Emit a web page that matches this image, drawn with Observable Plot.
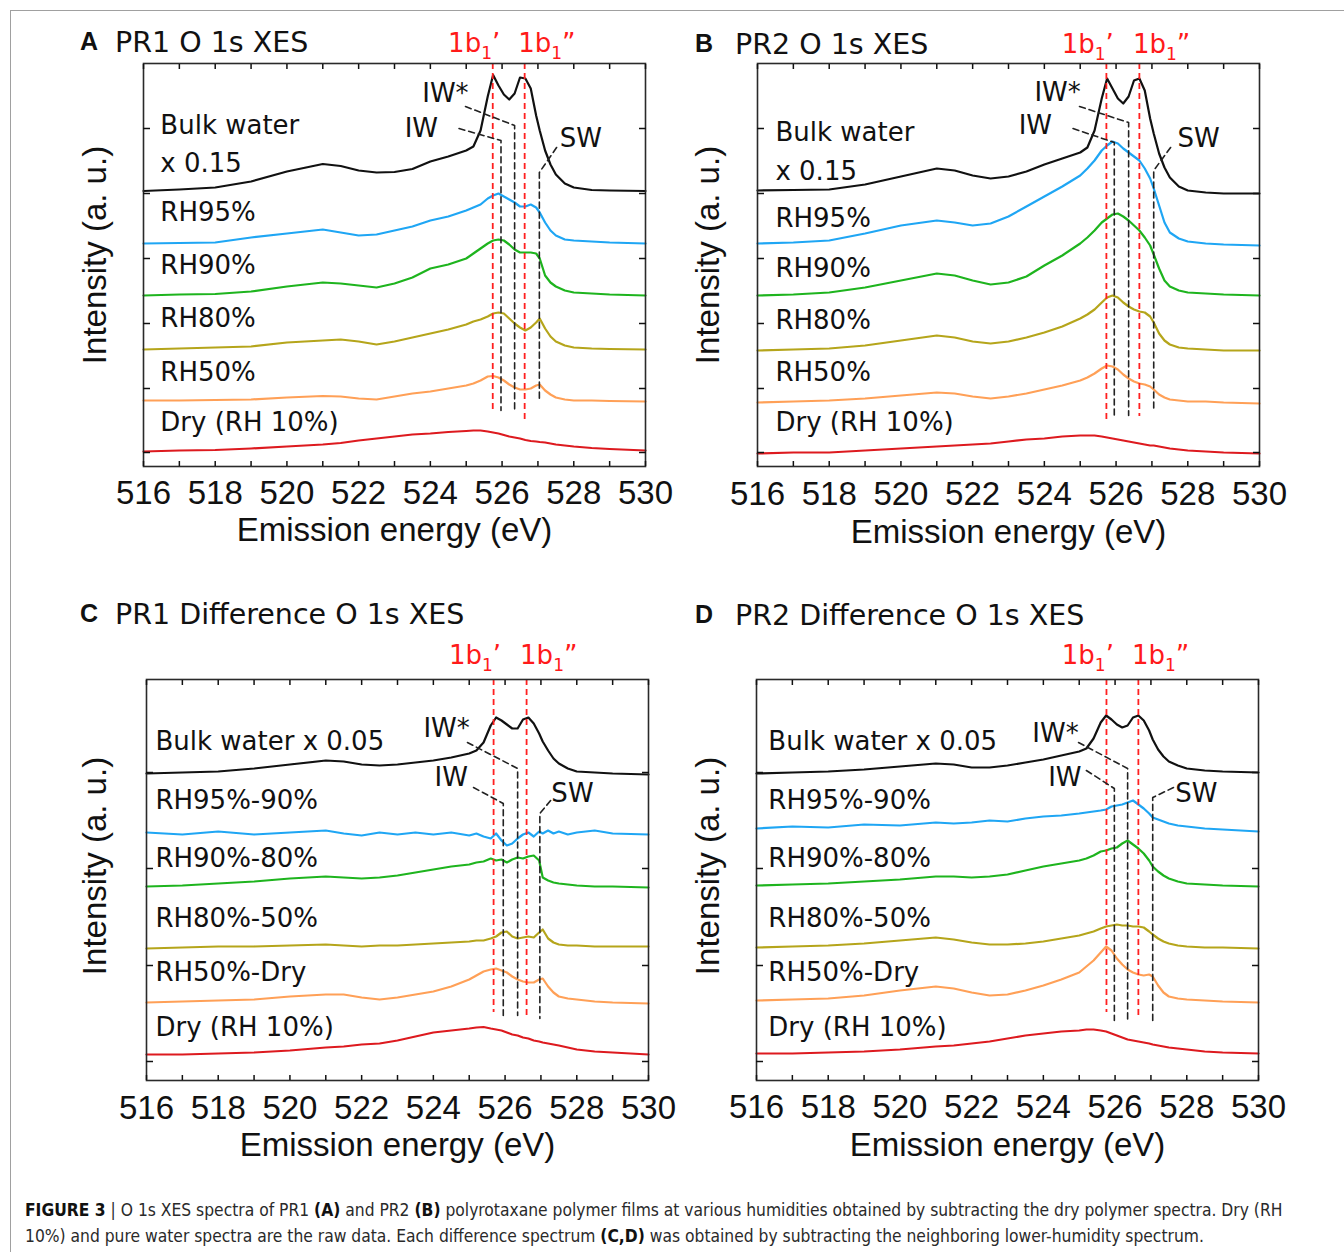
<!DOCTYPE html>
<html>
<head>
<meta charset="utf-8">
<script src="https://cdn.jsdelivr.net/npm/d3@7"></script>
<script src="https://cdn.jsdelivr.net/npm/@observablehq/plot@0.6"></script>
<style>
html, body { margin: 0; padding: 0; background: #fff; }
#fig { position: relative; width: 1344px; height: 1252px; overflow: hidden; background: #fff; }
#border { position: absolute; left: 10px; top: 10px; width: 1400px; height: 1300px; border-left: 1px solid #a0a0a0; border-top: 1px solid #a0a0a0; }
.panel { position: absolute; }
#caption { position: absolute; left: 25px; top: 1197px; white-space: nowrap; font-family: "Liberation Sans Narrow", "DejaVu Sans Condensed", "Liberation Sans", sans-serif; font-size: 17.3px; line-height: 26px; color: #2a2a2a; }
#caption b { color: #111; }
</style>
</head>
<body>
<div id="fig">
  <div id="border"></div>
  <div id="caption"><b>FIGURE 3</b> | O 1s XES spectra of PR1 <b>(A)</b> and PR2 <b>(B)</b> polyrotaxane polymer films at various humidities obtained by subtracting the dry polymer spectra. Dry (RH<br>10%) and pure water spectra are the raw data. Each difference spectrum <b>(C,D)</b> was obtained by subtracting the neighboring lower-humidity spectrum.</div>
</div>
<script>
// ---------------- data ----------------
const energy = [516, 517, 518, 519, 520, 521, 521.5, 522, 522.5, 523, 523.5, 524, 524.5, 525, 525.2, 525.4, 525.6, 525.75, 525.9, 526.05, 526.2, 526.35, 526.5, 526.65, 526.8, 526.95, 527.05, 527.2, 527.35, 527.5, 527.75, 528, 528.5, 529, 530];

const xLabelTicks = [516, 518, 520, 522, 524, 526, 528, 530];
const xMinorTicks = [516, 517, 518, 519, 520, 521, 522, 523, 524, 525, 526, 527, 528, 529, 530];
const yTicksAB = [14, 78, 143, 208, 273, 338];
const yTicksCD = [19, 115, 212, 308];

// Panel A: PR1 O 1s XES (offset intensities, a.u.)
const a_bulk = [275.5, 277, 279, 285, 295, 302.5, 300.5, 296, 294, 294.5, 297.5, 305, 310, 316, 320, 336, 370, 391.4, 381, 372, 367, 373, 389, 388, 378, 351, 336, 316, 302, 292, 283, 279, 276.5, 276, 275.5];
const a_rh95 = [223, 223.5, 224, 229, 233, 237, 234, 231, 232, 236, 240, 246, 250, 256, 259, 262, 268, 271, 273, 270, 267, 264, 260, 260, 262, 259, 254, 244, 236, 231, 227, 226, 225, 224, 223];
const a_rh90 = [171, 172, 172.5, 175, 180, 184, 183, 181, 179, 183, 189, 198, 202, 208, 213, 218, 223, 226, 227, 226, 222, 217, 214, 214, 214, 213, 208, 191, 184, 180, 176, 174, 173, 172, 171];
const a_rh80 = [117, 118, 119, 120, 124, 126, 127, 125, 122, 125, 129, 133, 137, 142, 145, 147, 150, 153, 154, 153, 148, 143, 139, 136, 139, 144, 148, 138, 130, 125, 121, 119, 118, 117.5, 117];
const a_rh50 = [66, 66, 66.5, 67, 69, 70.5, 70, 68, 67, 70, 73, 75, 78, 81, 83, 86, 90, 90.5, 89, 86, 82, 79, 77, 77, 78, 81, 82, 76, 72, 69, 67, 66, 66, 65.5, 65];
const a_dry = [15, 16, 16.5, 18, 20, 22, 23.5, 26, 28, 30, 32, 33, 34.5, 35.5, 36, 36, 35, 34, 33, 31.5, 30, 29, 28, 26.5, 25.5, 25, 24.5, 24, 23, 22, 21, 20, 18.5, 17.5, 16];

// Panel B: PR2 O 1s XES
const b_bulk = [276, 276.5, 277, 282, 290, 298, 296, 291, 288, 290, 295, 302, 308, 314, 319, 336, 368, 388, 378, 368, 363, 370, 386, 388, 376, 348, 333, 313, 299, 289, 280, 276, 274, 273, 273];
const b_rh95 = [223, 224, 226, 233, 241, 246, 244, 241, 243, 250, 260, 270, 280, 291, 298, 306, 316, 321, 325, 323, 318, 314, 310, 306, 298, 288, 278, 261, 244, 234, 228, 225, 223, 222, 221];
const b_rh90 = [171, 172, 174, 179, 186, 193, 191, 186, 182, 184, 190, 201, 211, 223, 229, 236, 244, 248, 252, 253, 250, 246, 241, 236, 229, 221, 212, 198, 186, 180, 176, 174, 173, 172, 171];
const b_rh80 = [116, 117, 118, 121, 126, 131, 129, 125, 123, 125, 129, 134, 140, 148, 152, 157, 164, 169, 171, 169, 164, 160, 157, 155, 154, 150, 144, 133, 126, 122, 119, 118, 117, 116, 116];
const b_rh50 = [64, 65, 66, 68, 71, 74, 73, 70, 68, 70, 73, 77, 81, 86, 89, 93, 98, 101, 100, 97, 92, 88, 85, 83, 82, 80, 77, 72, 69, 67, 66, 65, 65, 64, 63];
const b_dry = [13, 14, 14, 16, 18, 20, 21, 22, 23, 25, 27, 28, 30, 31, 31, 31, 30, 29, 28, 27, 26, 25, 24, 23, 22, 21, 21, 20, 19, 18, 17, 16, 15, 14, 13];

// Panel C: PR1 difference spectra
const c_bulk = [307, 308, 309, 312, 316, 320, 319, 316, 315, 316, 318, 320, 323, 327, 330, 338, 355, 363, 360, 356, 352, 352, 361, 363, 357, 347, 339, 330, 322, 317, 312, 309, 308, 307, 306];
const c_95_90 = [248, 246, 249, 246, 248, 250, 247, 245, 248, 246, 248, 246, 248, 245, 247, 244, 242, 247, 240, 235, 237, 242, 246, 248, 244, 249, 247, 250, 247, 249, 246, 248, 250, 247, 246];
const c_90_80 = [194, 195, 197, 199, 202, 204, 203, 202, 203, 205, 208, 211, 214, 216, 218, 219, 222, 220, 221, 218, 221, 223, 222, 224, 225, 220, 203, 200, 198, 197, 196, 195, 194, 194, 193];
const c_80_50 = [132, 133, 134, 134, 135, 136, 135, 134, 135, 135, 136, 137, 138, 139, 140, 140, 142, 144, 148, 149, 144, 142, 143, 144, 143, 148, 151, 142, 138, 136, 135, 135, 134, 134, 134];
const c_50_dry = [78, 79, 80, 81, 84, 86, 86, 83, 81, 83, 86, 89, 94, 101, 105, 109, 111, 112, 110, 108, 104, 101, 99, 98, 98, 101, 102, 94, 88, 84, 82, 81, 79, 78, 77];
const c_dry = [26, 26, 27, 28, 30, 33, 34, 36, 37, 40, 44, 48, 50, 52, 53, 53.5, 52, 51, 50, 48, 46, 45, 43, 42, 40, 39, 38, 37, 36, 35, 33, 31, 29, 28, 26];

// Panel D: PR2 difference spectra
const d_bulk = [307, 308, 309, 311, 314, 317, 316, 313, 313, 315, 318, 321, 325, 329, 332, 342, 358, 365, 361, 356, 353, 355, 363, 365, 360, 350, 341, 331, 324, 319, 315, 312, 310, 309, 308];
const d_95_90 = [252, 254, 253, 256, 255, 258, 257, 258, 260, 259, 262, 264, 265, 267, 268, 269, 270, 271, 274, 275, 276, 278, 280, 276, 272, 267, 263, 261, 259, 257, 255, 254, 252, 251, 249];
const d_90_80 = [195, 196, 197, 199, 201, 204, 204, 203, 204, 206, 210, 214, 217, 220, 222, 225, 229, 230, 232, 233, 237, 240, 236, 232, 227, 220, 214, 209, 205, 202, 199, 197, 196, 195, 194];
const d_80_50 = [133, 134, 135, 137, 140, 143, 141, 138, 136, 136, 137, 139, 142, 145, 147, 149, 152, 154, 155, 156, 155, 155, 154, 154, 153, 149, 146, 142, 139, 137, 135, 134, 133, 133, 132];
const d_50_dry = [80, 81, 82, 85, 90, 94, 92, 88, 85, 86, 90, 95, 101, 108, 114, 120, 128, 134, 130, 122, 116, 111, 108, 106, 105, 106, 104, 95, 88, 84, 82, 81, 80, 79, 78];
const d_dry = [27, 27, 28, 29, 31, 34, 35, 37, 39, 42, 45, 47, 49, 50, 51, 51, 50, 49, 47, 45, 43, 41, 40, 39, 38, 37, 36, 35, 34, 33, 32, 31, 29, 28, 27];

const seriesColors = ["#111111", "#1fa6f4", "#1eb41e", "#b5a51b", "#ffa057", "#dd1a1f"];
const labelsAB = ["Bulk water", "x 0.15", "RH95%", "RH90%", "RH80%", "RH50%", "Dry (RH 10%)"];
const labelsCD = ["Bulk water x 0.05", "RH95%-90%", "RH90%-80%", "RH80%-50%", "RH50%-Dry", "Dry (RH 10%)"];

// ---------------- layout / annotations ----------------
const LABEL_FONT = "DejaVu Sans, Verdana, sans-serif";
const AXIS_FONT = "Liberation Sans, Arial, sans-serif";

const panels = [
  { id: "A", title: "PR1 O 1s XES", left: 40, top: 0, width: 640, height: 560, mL: 103, mR: 35, mT: 63, mB: 94,
    yDomain: [0, 403], yTicks: yTicksAB, tickPad: 14, xTitleDy: 64, yTitleDx: -48, yTitleDy: -10,
    letterX: 80, titleX: 115, titleY: 50, redBaseline: 52,
    series: [a_bulk, a_rh95, a_rh90, a_rh80, a_rh50, a_dry], labels: labelsAB,
    labelX: 516.47, labelY: [341, 303, 254, 201, 148, 94, 44],
    red: [{e: 525.74, y1: 403, y2: 53}, {e: 526.63, y1: 403, y2: 46}],
    leaders: [[[524.8, 338], [525.97, 326], [525.97, 56]], [[524.98, 360], [526.35, 341], [526.35, 54]], [[527.52, 319], [527.04, 294], [527.04, 66]]],
    peakText: [{t: "IW*", x: 524.42, y: 373}, {t: "IW", x: 523.75, y: 338}, {t: "SW", x: 528.2, y: 328}] },
  { id: "B", title: "PR2 O 1s XES", left: 655, top: 0, width: 640, height: 560, mL: 102, mR: 36, mT: 63, mB: 94,
    yDomain: [0, 403], yTicks: yTicksAB, tickPad: 15, xTitleDy: 66, yTitleDx: -49, yTitleDy: -10,
    letterX: 695, titleX: 735, titleY: 52, redBaseline: 53,
    series: [b_bulk, b_rh95, b_rh90, b_rh80, b_rh50, b_dry], labels: labelsAB,
    labelX: 516.5, labelY: [334, 295, 248, 198, 146, 94, 44],
    red: [{e: 525.73, y1: 403, y2: 46}, {e: 526.65, y1: 403, y2: 50}],
    leaders: [[[524.8, 338], [525.95, 324], [525.95, 51]], [[524.98, 360], [526.35, 344], [526.35, 51]], [[527.52, 319], [527.05, 296], [527.05, 56]]],
    peakText: [{t: "IW*", x: 524.37, y: 374}, {t: "IW", x: 523.75, y: 341}, {t: "SW", x: 528.3, y: 328}] },
  { id: "C", title: "PR1 Difference O 1s XES", left: 40, top: 570, width: 640, height: 600, mL: 106, mR: 32, mT: 109, mB: 90,
    yDomain: [0, 401], yTicks: yTicksCD, tickPad: 15, xTitleDy: 65, yTitleDx: -51, yTitleDy: -14,
    letterX: 80, titleX: 115, titleY: 622, redBaseline: 664,
    series: [c_bulk, c_95_90, c_90_80, c_80_50, c_50_dry, c_dry], labels: labelsCD,
    labelX: 516.25, labelY: [339, 280, 222, 162, 108, 53],
    red: [{e: 525.68, y1: 401, y2: 68}, {e: 526.6, y1: 401, y2: 65}],
    leaders: [[[524.95, 338], [526.35, 312], [526.35, 65]], [[525.12, 293], [525.95, 277], [525.95, 65]], [[527.27, 280], [526.97, 267], [526.97, 62]]],
    peakText: [{t: "IW*", x: 524.37, y: 352}, {t: "IW", x: 524.5, y: 303}, {t: "SW", x: 527.88, y: 287}] },
  { id: "D", title: "PR2 Difference O 1s XES", left: 655, top: 570, width: 640, height: 600, mL: 101, mR: 37, mT: 109, mB: 90,
    yDomain: [0, 401], yTicks: yTicksCD, tickPad: 14, xTitleDy: 65, yTitleDx: -48, yTitleDy: -14,
    letterX: 695, titleX: 735, titleY: 623, redBaseline: 664,
    series: [d_bulk, d_95_90, d_90_80, d_80_50, d_50_dry, d_dry], labels: labelsCD,
    labelX: 516.33, labelY: [339, 280, 222, 162, 108, 53],
    red: [{e: 525.76, y1: 401, y2: 68}, {e: 526.65, y1: 401, y2: 65}],
    leaders: [[[524.98, 338], [526.35, 312], [526.35, 60]], [[525.2, 310], [525.98, 292], [525.98, 60]], [[527.63, 293], [527.05, 283], [527.05, 58]]],
    peakText: [{t: "IW*", x: 524.34, y: 347}, {t: "IW", x: 524.6, y: 303}, {t: "SW", x: 528.27, y: 287}] }
];

const fig = document.getElementById("fig");

for (const p of panels) {
  const marks = [];
  // curves
  p.series.forEach((vals, i) => {
    const rows = energy.map((e, j) => ({e, v: vals[j]}));
    marks.push(Plot.line(rows, {x: "e", y: "v", stroke: seriesColors[i], strokeWidth: 2.2, curve: "linear"}));
  });
  // red dashed 1b1 lines
  marks.push(Plot.ruleX(p.red, {x: "e", y1: "y1", y2: "y2", stroke: "#ff2020", strokeWidth: 1.8, strokeDasharray: "6,4"}));
  // black dashed leader lines
  p.leaders.forEach(pts => {
    marks.push(Plot.line(pts, {x: d => d[0], y: d => d[1], stroke: "#222", strokeWidth: 1.6, strokeDasharray: "6,4"}));
  });
  // frame & axes
  marks.push(Plot.frame({stroke: "#2a2a2a", strokeWidth: 1.6}));
  marks.push(Plot.axisX({anchor: "bottom", ticks: xMinorTicks, tickSize: -5, tickFormat: () => "", label: null, strokeWidth: 1.5}));
  marks.push(Plot.axisX({anchor: "top", ticks: xMinorTicks, tickSize: -5, tickFormat: () => "", label: null, strokeWidth: 1.5}));
  marks.push(Plot.axisX({anchor: "bottom", ticks: xLabelTicks, tickSize: 0, tickPadding: p.tickPad, tickFormat: d => String(d), label: null}));
  marks.push(Plot.axisY({anchor: "left", ticks: p.yTicks, tickSize: -7, tickFormat: () => "", label: null, strokeWidth: 1.5}));
  marks.push(Plot.axisY({anchor: "right", ticks: p.yTicks, tickSize: -7, tickFormat: () => "", label: null, strokeWidth: 1.5}));
  // series labels
  const lab = p.labels.map((t, i) => ({t, x: p.labelX, y: p.labelY[i]}));
  marks.push(Plot.text(lab, {x: "x", y: "y", text: "t", textAnchor: "start", lineAnchor: "middle", fontFamily: LABEL_FONT, fontSize: 26, fill: "#111"}));
  // peak labels
  marks.push(Plot.text(p.peakText, {x: "x", y: "y", text: "t", textAnchor: "middle", lineAnchor: "middle", fontFamily: LABEL_FONT, fontSize: 26, fill: "#111"}));
  // axis titles
  marks.push(Plot.text(["Emission energy (eV)"], {text: d => d, frameAnchor: "bottom", dy: p.xTitleDy, lineAnchor: "middle", fontFamily: AXIS_FONT, fontSize: 33, fill: "#111"}));
  marks.push(Plot.text(["Intensity (a. u.)"], {text: d => d, frameAnchor: "left", rotate: -90, dx: p.yTitleDx, dy: p.yTitleDy, lineAnchor: "middle", textAnchor: "middle", fontFamily: AXIS_FONT, fontSize: 33, fill: "#111"}));

  const chart = Plot.plot({
    width: p.width, height: p.height,
    marginLeft: p.mL, marginRight: p.mR, marginTop: p.mT, marginBottom: p.mB,
    x: {domain: [516, 530], label: null},
    y: {domain: p.yDomain, label: null},
    style: {background: "transparent", overflow: "visible", fontFamily: AXIS_FONT, fontSize: "33px", color: "#111", maxWidth: "none"},
    marks
  });

  const svg = d3.select(chart);
  const xs = chart.scale("x");
  // panel letter and title
  svg.append("text").attr("x", p.letterX - p.left).attr("y", p.titleY - p.top)
    .attr("text-anchor", "start")
    .attr("font-family", AXIS_FONT).attr("font-weight", "bold").attr("font-size", 25).attr("fill", "#111").text(p.id);
  svg.append("text").attr("x", p.titleX - p.left).attr("y", p.titleY - p.top + 2)
    .attr("text-anchor", "start")
    .attr("font-family", LABEL_FONT).attr("font-size", 28.5).attr("fill", "#111").text(p.title);
  // red 1b1' and 1b1'' labels with subscripts
  const marksRed = [{e: p.red[0].e, anchor: "end", dx: 8, prime: "\u2019"}, {e: p.red[1].e, anchor: "start", dx: -6, prime: "\u201D"}];
  for (const r of marksRed) {
    const t = svg.append("text").attr("x", xs.apply(r.e) + r.dx).attr("y", p.redBaseline - p.top)
      .attr("text-anchor", r.anchor).attr("font-family", LABEL_FONT).attr("font-size", 26).attr("fill", "#ff1a1a");
    t.append("tspan").text("1b");
    t.append("tspan").attr("font-size", 17).attr("dy", 7).text("1");
    t.append("tspan").attr("dy", -7).text(r.prime);
  }

  const holder = document.createElement("div");
  holder.className = "panel";
  holder.style.left = p.left + "px";
  holder.style.top = p.top + "px";
  holder.style.width = p.width + "px";
  holder.style.height = p.height + "px";
  holder.appendChild(chart);
  fig.appendChild(holder);
}
</script>
</body>
</html>
